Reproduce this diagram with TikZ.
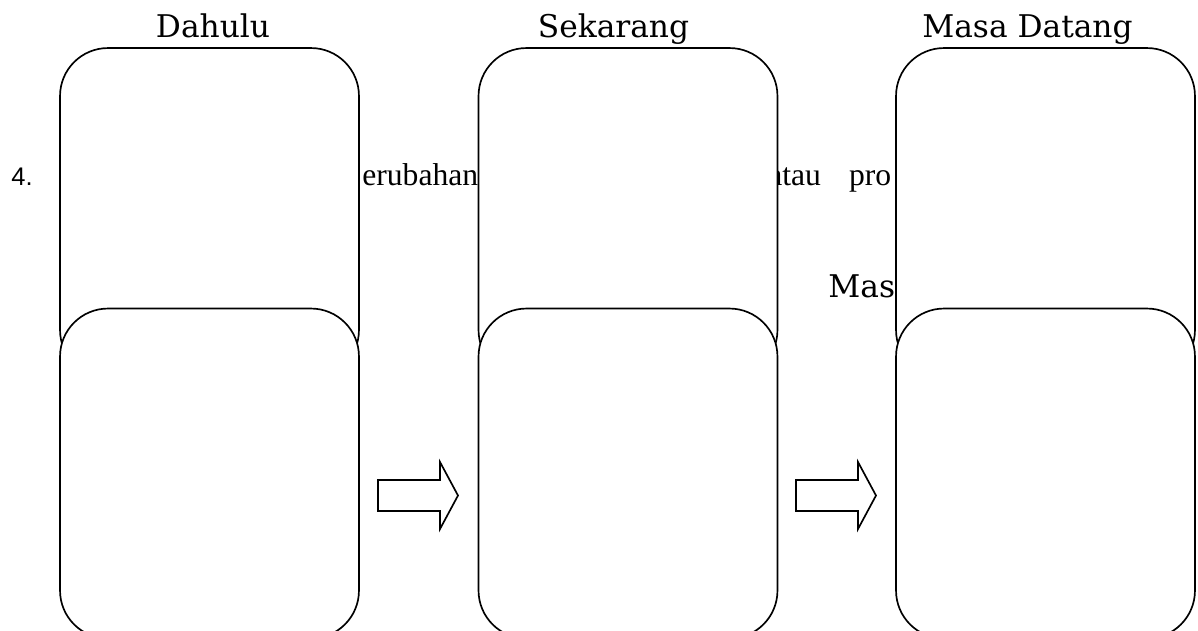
\documentclass[tikz,border=0pt]{standalone}
\usepackage{fontspec}
\setmainfont{Liberation Serif}
\newfontfamily\judulfont{DejaVu Serif}
\newfontfamily\nomorfont{Liberation Sans}

\tikzset{
  kotak/.style={draw,fill=white,line width=0.95pt,rounded corners=0.96cm,
    minimum width=5.98cm,minimum height=6.6cm,inner sep=0pt},
  panah/.style={draw,fill=white,line width=0.95pt,line join=miter},
  judul/.style={font=\judulfont\fontsize{17.8}{20}\selectfont,inner sep=0pt},
  teks/.style={font=\fontsize{18}{20}\selectfont,inner sep=0pt}
}

\begin{document}
\begin{tikzpicture}[x=0.02cm,y=-0.02cm]

\useasboundingbox (0,0) rectangle (1198,630);

% Teks latar (tertutup kotak)
\node[teks,font=\nomorfont\fontsize{14.5}{17}\selectfont,anchor=base west] (nomor) at (11,185) {4.};
\node[teks,anchor=base west] (teksA) at (362,185) {erubahan};
\node[teks,anchor=base west] (teksB) at (768,185) {atau\hspace{16pt}pro};
\node[judul,anchor=base west] (teksC) at (828,297) {Mas};

% Kotak atas
\node[kotak] (atas1) at (209.5,213) {};
\node[kotak] (atas2) at (628,213) {};
\node[kotak] (atas3) at (1045.5,213) {};

% Kotak bawah
\node[kotak] (bawah1) at (209.5,473.5) {};
\node[kotak] (bawah2) at (628,473.5) {};
\node[kotak] (bawah3) at (1045.5,473.5) {};

% Panah blok
\draw[panah] (378,480)--(440,480)--(440,462)--(458,495.5)--(440,529)--(440,511)--(378,511)--cycle;
\draw[panah] (796,480)--(858,480)--(858,462)--(876,495.5)--(858,529)--(858,511)--(796,511)--cycle;

% Judul kolom
\node[judul,anchor=base] (dahulu) at (213,37) {Dahulu};
\node[judul,anchor=base] (sekarang) at (613.5,37) {Sekarang};
\node[judul,anchor=base] (datang) at (1027.5,37) {Masa Datang};

\end{tikzpicture}
\end{document}
